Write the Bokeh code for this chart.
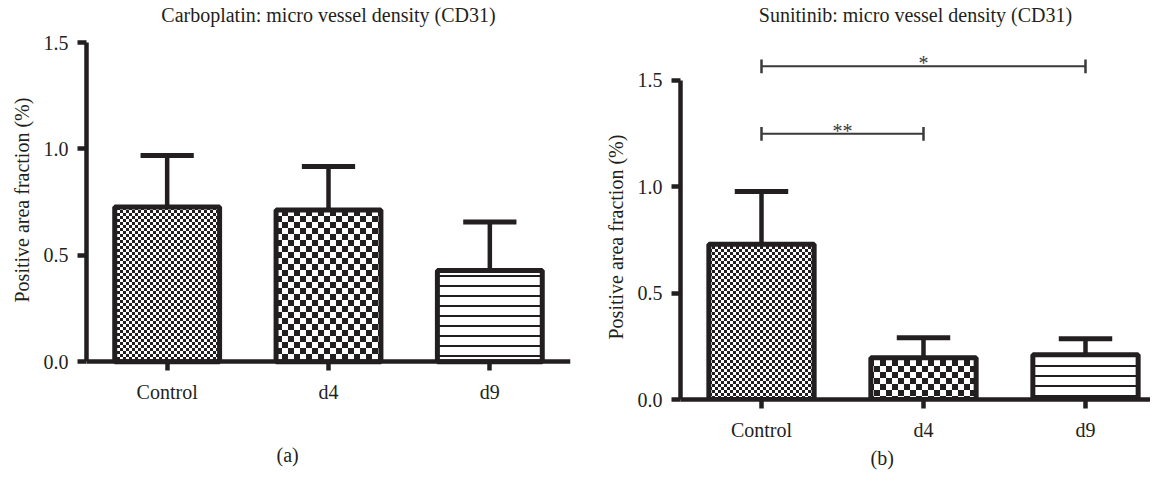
from bokeh.plotting import figure
from bokeh.models import (Range1d, FixedTicker, NumeralTickFormatter, Title,
                          ColumnDataSource, CanvasTexture, LinearAxis)
from bokeh.layouts import row
from bokeh.embed import file_html
from bokeh.resources import INLINE
from bokeh.core.properties import value

# ---------------- data ----------------
categories = ["Control", "d4", "d9"]
carbo_mean = [0.727, 0.713, 0.429]
carbo_upper = [0.969, 0.918, 0.657]
suni_mean = [0.729, 0.196, 0.210]
suni_upper = [0.977, 0.290, 0.285]
y_ticks = [0.0, 0.5, 1.0, 1.5]
suni_sig_from = [0, 0]
suni_sig_to = [1, 2]
suni_sig_level = [1.248, 1.565]
suni_sig_text = ["**", "*"]
titles = ["Carboplatin: micro vessel density (CD31)",
          "Sunitinib: micro vessel density (CD31)"]
panel_tags = ["(a)", "(b)"]
y_label = "Positive area fraction (%)"

# ---------------- style ----------------
INK = "#231f20"
FONT = "Liberation Serif"
FS = "20px"
PX_PER_UNIT = 322 / 1.5
FRAME_H = 360
TOP = 40
HEIGHT = 473
BAR_W = 0.65
CAP_HALF = 0.165


def checker_code(size):
    return f"""
const s = {size};
ctx.canvas.width = s;
ctx.canvas.height = s;
ctx.fillStyle = '#ffffff';
ctx.fillRect(0, 0, s, s);
ctx.fillStyle = '#231f20';
ctx.fillRect(0, 0, s / 2, s / 2);
ctx.fillRect(s / 2, s / 2, s / 2, s / 2);
"""


textures = {"fine_checker": CanvasTexture(code=checker_code(6)),
            "coarse_checker": CanvasTexture(code=checker_code(12))}
bar_patterns = ["fine_checker", "coarse_checker", "horizontal_line"]
bar_hscales = [6, 12, 10]
bar_hweights = [1, 1, 2]


def make_panel(title, means, uppers, width, border_left, border_right,
               x_end, y_start, tag, ylabel_offset, fixed_x, sig=None):
    y_end = y_start + FRAME_H / PX_PER_UNIT
    p = figure(width=width, height=HEIGHT, output_backend="svg",
               toolbar_location=None,
               x_range=Range1d(-0.5, x_end), y_range=Range1d(y_start, y_end),
               min_border_left=border_left, min_border_right=border_right,
               min_border_top=TOP, min_border_bottom=HEIGHT - TOP - FRAME_H)
    xax = p.below[0]
    yax = p.left[0]
    p.outline_line_color = None
    p.grid.visible = False
    p.background_fill_color = "white"
    p.border_fill_color = "white"
    p.title.visible = False

    # chart title, carried by a tick-less axis above the frame
    title_axis = LinearAxis(ticker=FixedTicker(ticks=[]), axis_line_color=None,
                            major_tick_line_color=None,
                            minor_tick_line_color=None,
                            axis_label=title, axis_label_standoff=17,
                            axis_label_text_font=FONT,
                            axis_label_text_font_size=FS,
                            axis_label_text_font_style="normal",
                            axis_label_text_color=INK)
    p.add_layout(title_axis, "above")

    xs = list(range(len(categories)))
    src = ColumnDataSource(dict(x=xs, top=means, upper=uppers,
                                cap0=[x - CAP_HALF for x in xs],
                                cap1=[x + CAP_HALF for x in xs],
                                pattern=bar_patterns, hscale=bar_hscales,
                                hweight=bar_hweights))
    # error bars (upper only)
    p.segment(x0="x", y0="top", x1="x", y1="upper", source=src,
              line_color=INK, line_width=4.5)
    p.segment(x0="cap0", y0="upper", x1="cap1", y1="upper", source=src,
              line_color=INK, line_width=5)
    # bars
    p.vbar(x="x", top="top", width=BAR_W, bottom=0, source=src,
           fill_color="white", line_color=INK, line_width=5,
           hatch_pattern="pattern", hatch_scale="hscale",
           hatch_weight="hweight", hatch_color=INK,
           hatch_extra=textures)

    if sig is not None:
        f, t, lv, tx = sig
        tick = 7 / PX_PER_UNIT
        ssrc = ColumnDataSource(dict(x0=f, x1=t, y=lv,
                                     y0=[v - tick for v in lv],
                                     y1=[v + tick for v in lv],
                                     xm=[(a + b) / 2 for a, b in zip(f, t)],
                                     text=tx))
        p.segment(x0="x0", y0="y", x1="x1", y1="y", source=ssrc,
                  line_color="#3a3a3a", line_width=2)
        p.segment(x0="x0", y0="y0", x1="x0", y1="y1", source=ssrc,
                  line_color="#3a3a3a", line_width=2.5)
        p.segment(x0="x1", y0="y0", x1="x1", y1="y1", source=ssrc,
                  line_color="#3a3a3a", line_width=2.5)
        p.text(x="xm", y="y", text="text", source=ssrc,
               text_font=value(FONT), text_font_size=FS, text_color="#3a3a3a",
               text_align="center", text_baseline="alphabetic", y_offset=-3)

    # axes
    for ax in (xax, yax):
        ax.axis_line_color = INK
        ax.axis_line_width = 4.5
        ax.major_tick_line_color = INK
        ax.major_tick_line_width = 4.5
        ax.major_tick_in = 0
        ax.major_tick_out = 9
        ax.minor_tick_line_color = None
        ax.major_label_text_font = FONT
        ax.major_label_text_font_size = FS
        ax.major_label_text_color = INK
    xax.ticker = FixedTicker(ticks=xs)
    xax.major_label_overrides = {i: c for i, c in enumerate(categories)}
    xax.major_label_standoff = 10
    if fixed_x:
        xax.fixed_location = 0
        # keeps the panel tag at the same height as in the other panel
        spacer = LinearAxis(ticker=FixedTicker(ticks=[0]), major_tick_out=41,
                            major_tick_in=0, major_tick_line_color="white",
                            major_tick_line_width=1, axis_line_color=None,
                            minor_tick_line_color=None,
                            major_label_overrides={0: ""},
                            major_label_text_font_size="0px",
                            major_label_standoff=0)
        p.add_layout(spacer, "below")
    yax.ticker = FixedTicker(ticks=y_ticks)
    yax.formatter = NumeralTickFormatter(format="0.0")
    yax.major_label_standoff = 9
    yax.bounds = (0, 1.5)

    # y axis caption (placed along the 0..1.5 span)
    p.add_layout(Title(text=y_label, align="left", offset=ylabel_offset,
                       standoff=16, text_font=FONT, text_font_size=FS,
                       text_font_style="normal", text_color=INK), "left")
    # panel tag
    p.add_layout(Title(text=tag, align="left", offset=190, standoff=6,
                       vertical_align="top",
                       text_font=FONT, text_font_size=FS,
                       text_font_style="normal", text_color=INK), "below")
    return p


p1 = make_panel(titles[0], carbo_mean, carbo_upper, width=592,
                border_left=84, border_right=22, x_end=2.5,
                y_start=1.5 - FRAME_H / PX_PER_UNIT, tag=panel_tags[0],
                ylabel_offset=97, fixed_x=True)
p2 = make_panel(titles[1], suni_mean, suni_upper, width=558,
                border_left=88, border_right=0, x_end=-0.5 + 470 / 162,
                y_start=0.0, tag=panel_tags[1], ylabel_offset=60,
                fixed_x=False,
                sig=(suni_sig_from, suni_sig_to, suni_sig_level, suni_sig_text))

layout = row(p1, p2)
open("out.html", "w").write(file_html(layout, INLINE))
